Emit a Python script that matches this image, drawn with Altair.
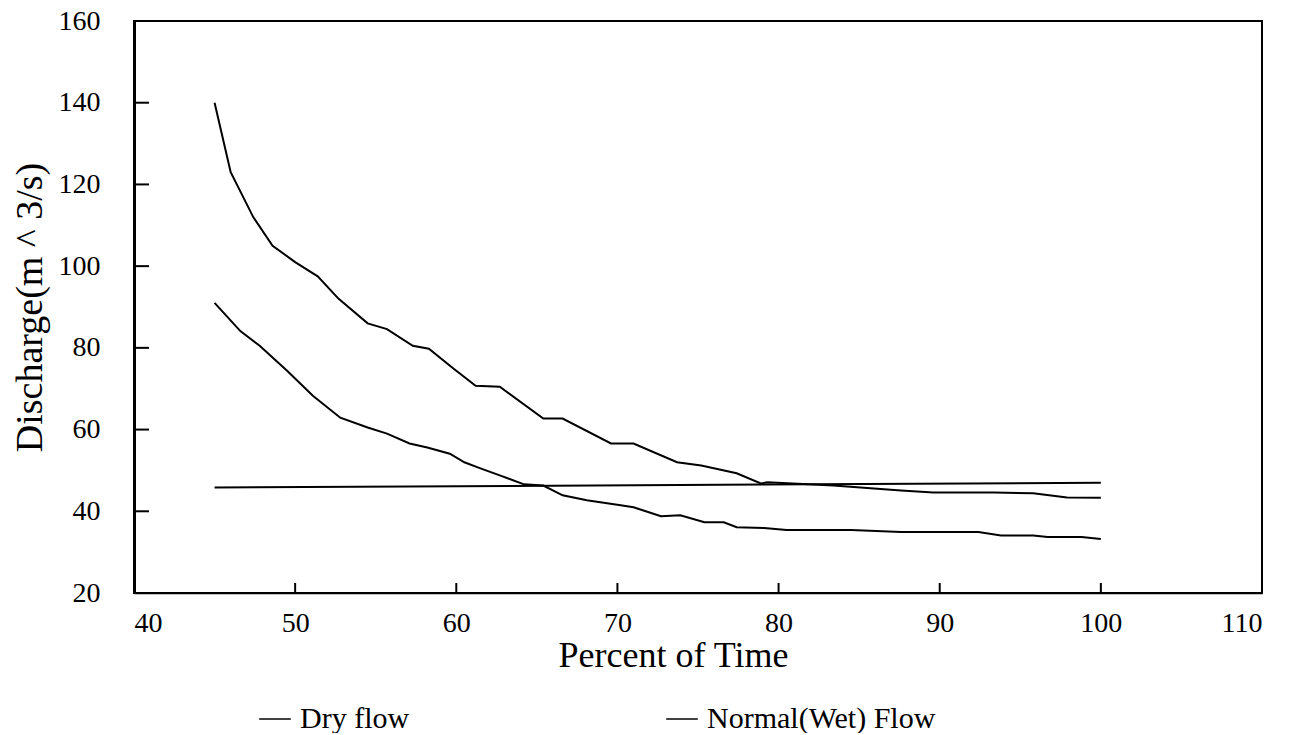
import altair as alt
import pandas as pd

# Normal (wet) flow curve (upper)
wet_x = [45, 46, 47.4, 48.6, 50, 51.4, 52.7, 54.5, 55.7, 57.3, 58.3, 59.8, 61.2, 62.7, 65.4, 66.6,
         69.6, 71, 73.7, 75.2, 77.4, 78.9, 79.3, 83.4, 87.6, 89.6, 93.4, 95.8, 97.9, 100]
wet_y = [140, 123, 112, 105, 101, 97.5, 92, 86, 84.6, 80.5, 79.8, 75, 70.7, 70.5, 62.7, 62.7,
         56.6, 56.6, 52, 51.2, 49.3, 46.8, 47.1, 46.3, 45.1, 44.6, 44.6, 44.4, 43.4, 43.3]

# Dry flow curve (lower)
dry_x = [45, 46.6, 47.8, 49.5, 51.1, 52.8, 54.5, 55.7, 57.1, 58.2, 59.6, 60.5, 61.5, 62.7, 64.2,
         65.4, 66.6, 68.1, 70.2, 71, 72.7, 73.9, 75.4, 76.6, 77.4, 79.1, 80.5, 84.5, 87.6, 92.4,
         93.8, 95.8, 96.7, 98.8, 100]
dry_y = [91, 84.1, 80.5, 74.4, 68.3, 62.9, 60.5, 59, 56.6, 55.6, 54.1, 52, 50.5, 48.8, 46.6,
         46.3, 43.9, 42.7, 41.5, 41, 38.8, 39, 37.3, 37.3, 36.1, 35.9, 35.4, 35.4, 34.9, 34.9,
         34.1, 34.1, 33.7, 33.7, 33.2]

# Horizontal reference line
ref_x = [45, 100]
ref_y = [45.8, 47]

x_ticks = [40, 50, 60, 70, 80, 90, 100, 110]
y_ticks = [20, 40, 60, 80, 100, 120, 140, 160]
x_inner_ticks = [50, 60, 70, 80, 90, 100]
y_inner_ticks = [40, 60, 80, 100, 120, 140]

series_names = ["Dry flow", "Normal(Wet) Flow"]

W, H = 1128, 572
FONT = "Liberation Serif"

curves = pd.DataFrame(
    [{"x": x, "y": y, "s": "Dry flow", "o": i} for i, (x, y) in enumerate(zip(dry_x, dry_y))]
    + [{"x": x, "y": y, "s": "Normal(Wet) Flow", "o": i} for i, (x, y) in enumerate(zip(wet_x, wet_y))]
)
ref = pd.DataFrame({"x": ref_x, "y": ref_y})

xs = alt.Scale(domain=[40, 110], nice=False, zero=False)
ys = alt.Scale(domain=[20, 160], nice=False, zero=False)

xaxis = alt.Axis(values=x_ticks, ticks=False, tickSize=0, grid=False, labelFont=FONT, labelFontSize=28,
                 labelColor="black", labelPadding=16, title="Percent of Time", titleFont=FONT,
                 titleFontSize=36, titleFontWeight="normal", titleColor="black",
                 titleX=539, titleY=62, titleBaseline="middle", domainColor="black", domainWidth=1.5)
yaxis = alt.Axis(values=y_ticks, ticks=False, tickSize=0, grid=False, labelFont=FONT, labelFontSize=28,
                 labelColor="black", labelPadding=34, title="Discharge(m ^ 3/s)", titleFont=FONT,
                 titleFontSize=38, titleFontWeight="normal", titleColor="black",
                 titleX=-104, titleY=286, titleAlign="center", titleBaseline="middle",
                 domainColor="black", domainWidth=3)

lines = alt.Chart(curves).mark_line(strokeWidth=2).encode(
    x=alt.X("x:Q", scale=xs, axis=xaxis),
    y=alt.Y("y:Q", scale=ys, axis=yaxis),
    order="o:Q",
    color=alt.Color("s:N", scale=alt.Scale(domain=series_names, range=["black", "black"]),
                    legend=alt.Legend(title=None, orient="none", legendX=124, legendY=681,
                                      direction="horizontal", symbolType="stroke", symbolSize=1000,
                                      symbolStrokeWidth=1.5, symbolStrokeColor="black",
                                      labelFont=FONT, labelFontSize=30, labelColor="black",
                                      labelLimit=0, columnPadding=253, labelOffset=8)),
)

refline = alt.Chart(ref).mark_line(strokeWidth=2, color="black").encode(
    x=alt.X("x:Q", scale=xs), y=alt.Y("y:Q", scale=ys)
)

yt = alt.Chart(pd.DataFrame({"v": y_inner_ticks})).mark_rule(color="black", strokeWidth=2).encode(
    y=alt.Y("v:Q", scale=ys), x=alt.value(0), x2=alt.value(15)
)
xt = alt.Chart(pd.DataFrame({"v": x_inner_ticks})).mark_rule(color="black", strokeWidth=2).encode(
    x=alt.X("v:Q", scale=xs), y=alt.value(H), y2=alt.value(H - 10)
)

chart = alt.layer(lines, refline, yt, xt).properties(
    width=W, height=H,
    padding={"left": 126, "top": 13, "right": 20, "bottom": 140},
    autosize=alt.AutoSizeParams(type="none"),
    background="white",
).configure_view(stroke="black", strokeWidth=2)

chart.save("out.html", embed_options={"renderer": "svg", "actions": False})
